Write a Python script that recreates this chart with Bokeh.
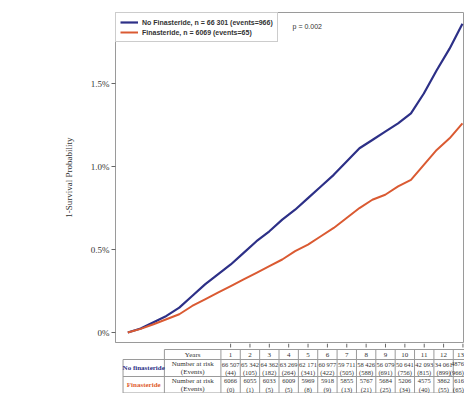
from bokeh.plotting import figure
from bokeh.layouts import column
from bokeh.models import Range1d, Legend, LegendItem, Label, FixedTicker
from bokeh.core.properties import value
from bokeh.embed import file_html
from bokeh.resources import INLINE

# ---------------- data ----------------
t = [0, 0.5, 1, 1.5, 2, 2.5, 3, 3.5, 4, 4.5, 5, 5.5, 6, 6.5, 7, 7.5, 8, 8.5, 9, 9.5,
     10, 10.5, 11, 11.5, 12, 12.5, 13]
no_fin = [0, 0.024, 0.062, 0.10, 0.15, 0.22, 0.29, 0.35, 0.41, 0.48, 0.55, 0.61, 0.68, 0.74,
          0.81, 0.88, 0.95, 1.03, 1.11, 1.16, 1.21, 1.26, 1.32, 1.44, 1.58, 1.71, 1.86]
fin = [0, 0.022, 0.05, 0.08, 0.11, 0.16, 0.20, 0.24, 0.28, 0.32, 0.36, 0.40, 0.44, 0.49,
       0.53, 0.58, 0.63, 0.69, 0.75, 0.80, 0.83, 0.88, 0.92, 1.01, 1.10, 1.17, 1.26]

years = [1, 2, 3, 4, 5, 6, 7, 8, 9, 10, 11, 12, 13]
no_fin_at_risk = ["66 507", "65 342", "64 362", "63 269", "62 171", "60 977", "59 711",
                  "58 426", "56 079", "50 641", "42 093", "34 061", "4876"]
no_fin_events = ["(44)", "(105)", "(182)", "(264)", "(341)", "(422)", "(505)", "(588)",
                 "(691)", "(756)", "(815)", "(899)", "(966)"]
fin_at_risk = ["6066", "6055", "6033", "6009", "5969", "5918", "5855", "5767", "5684",
               "5206", "4575", "3862", "616"]
fin_events = ["(0)", "(1)", "(5)", "(5)", "(8)", "(9)", "(13)", "(21)", "(25)", "(34)",
              "(40)", "(55)", "(65)"]

y_ticks = [0, 0.5, 1.0, 1.5]
y_tick_labels = ["0%", "0.5%", "1.0%", "1.5%"]

legend_no_fin = "No Finasteride, n = 66 301 (events=966)"
legend_fin = "Finasteride, n = 6069 (events=65)"
p_text = "p = 0.002"

BLUE = "#2D3087"
RED = "#DA5A32"
ORANGE = "#E0602E"
GRID = "#9A9A9A"
TXT = "#333333"
SERIF = "Liberation Serif"

W = 464
X_LEFT_TABLE = -4.944
X_RIGHT = 13.08

# ---------------- main plot ----------------
p = figure(frame_width=349, frame_height=330,
           x_range=Range1d(-0.478, X_RIGHT), y_range=Range1d(-0.060, 1.928),
           output_backend="svg", toolbar_location=None,
           min_border_left=115, min_border_right=0, min_border_top=12, min_border_bottom=1)
p.xgrid.visible = False
p.ygrid.visible = False
p.xaxis.visible = False
p.outline_line_color = GRID
p.outline_line_width = 1
p.background_fill_color = "white"
p.border_fill_color = "white"

r1 = p.line(t, no_fin, line_color=BLUE, line_width=2.2)
r2 = p.line(t, fin, line_color=RED, line_width=2.0)

# y axis
p.yaxis.ticker = FixedTicker(ticks=y_ticks)
p.yaxis.major_label_overrides = {tk: lab for tk, lab in zip(y_ticks, y_tick_labels)}
p.yaxis.major_label_text_font = SERIF
p.yaxis.major_label_text_font_size = "9px"
p.yaxis.major_label_text_color = TXT
p.yaxis.major_tick_in = 0
p.yaxis.major_tick_out = 4
p.yaxis.major_label_standoff = 2
p.yaxis.minor_tick_line_color = None
p.yaxis.axis_line_color = GRID
p.yaxis.major_tick_line_color = "#666666"
p.yaxis.axis_label = "1-Survival Probability"
p.yaxis.axis_label_text_font = SERIF
p.yaxis.axis_label_text_font_size = "9px"
p.yaxis.axis_label_text_font_style = "normal"
p.yaxis.axis_label_text_color = TXT
p.yaxis.axis_label_standoff = 14

legend = Legend(items=[LegendItem(label=legend_no_fin, renderers=[r1]),
                       LegendItem(label=legend_fin, renderers=[r2])],
                location="top_left", margin=0, padding=4, spacing=0,
                label_height=10, glyph_height=10, glyph_width=18,
                label_standoff=4,
                label_text_font="Liberation Sans", label_text_font_size="7px",
                label_text_font_style="bold", label_text_color=TXT,
                border_line_color=GRID, border_line_width=1,
                background_fill_alpha=1.0)
p.add_layout(legend)

p.add_layout(Label(x=6.4, y=1.845, text=p_text, text_font="Liberation Sans",
                   text_font_size="7px", text_color=TXT, text_baseline="middle"))

# ---------------- risk table (with x-axis ticks at its top) ----------------
TH = 50
tb = figure(width=W, height=TH, x_range=Range1d(X_LEFT_TABLE, X_RIGHT), y_range=Range1d(TH, 0),
            output_backend="svg", toolbar_location=None,
            min_border_left=0, min_border_right=0, min_border_top=0, min_border_bottom=0)
tb.axis.visible = False
tb.xgrid.visible = False
tb.ygrid.visible = False
tb.outline_line_color = None
tb.background_fill_color = "white"
tb.border_fill_color = "white"

# x-axis tick marks of the survival plot
tb.segment(x0=years, x1=years, y0=[0] * len(years), y1=[4] * len(years),
           line_color="#666666", line_width=1)

top, r1y, r2y, bot = 6, 16, 33, 49.5
lab_l, lab_r = -4.555, -2.419
col_edges = [lab_l, lab_r] + [k + 0.5 for k in range(0, len(years) + 1)]
last = col_edges[-1]
hx0 = [lab_r, lab_l, lab_l, lab_l]
hy = [top, r1y, r2y, bot]
tb.segment(x0=hx0, x1=[last] * 4, y0=hy, y1=hy, line_color=GRID, line_width=1)
vy0 = [r1y] + [top] * (len(col_edges) - 1)
tb.segment(x0=col_edges, x1=col_edges, y0=vy0, y1=[bot] * len(col_edges),
           line_color=GRID, line_width=1)

font = value(SERIF)
fs_num = value("6.5px")
fs_lab = value("7px")
col_c = (lab_r + 0.5) / 2
hdr_y = (top + r1y) / 2
b1, b2 = r1y + 4.5, r1y + 12.5
c1, c2 = r2y + 4.5, r2y + 12.5
tb.text(x=[col_c], y=[hdr_y], text=["Years"], text_font=font, text_font_size=fs_lab,
        text_align="center", text_baseline="middle", text_color=TXT)

year_labels = [str(y) for y in years]
rows = [(year_labels, hdr_y, fs_lab), (no_fin_at_risk, b1, fs_num), (no_fin_events, b2, fs_num),
        (fin_at_risk, c1, fs_num), (fin_events, c2, fs_num)]
for arr, yy, fsz in rows:
    # all but the last column: centred on the year
    tb.text(x=years[:-1], y=[yy] * (len(years) - 1), text=arr[:-1], text_font=font,
            text_font_size=fsz, text_align="center", text_baseline="middle", text_color=TXT)
    # last column sits at the right edge: right-align so it stays whole
    tb.text(x=[X_RIGHT - 0.03], y=[yy], text=arr[-1:], text_font=font,
            text_font_size=fsz, text_align="right", text_baseline="middle", text_color=TXT)

tb.text(x=[col_c] * 4, y=[b1, b2, c1, c2],
        text=["Number at risk", "(Events)", "Number at risk", "(Events)"],
        text_font=font, text_font_size=fs_lab, text_align="center", text_baseline="middle",
        text_color=TXT)
lab_c = (lab_l + lab_r) / 2
tb.text(x=[lab_c], y=[(r1y + r2y) / 2], text=["No finasteride"], text_font=font,
        text_font_size=fs_lab, text_font_style="bold", text_align="center",
        text_baseline="middle", text_color=BLUE)
tb.text(x=[lab_c], y=[(r2y + bot) / 2], text=["Finasteride"], text_font=font,
        text_font_size=fs_lab, text_font_style="bold", text_align="center",
        text_baseline="middle", text_color=ORANGE)

layout = column(p, tb, spacing=0)
open("out.html", "w").write(file_html(layout, INLINE))
